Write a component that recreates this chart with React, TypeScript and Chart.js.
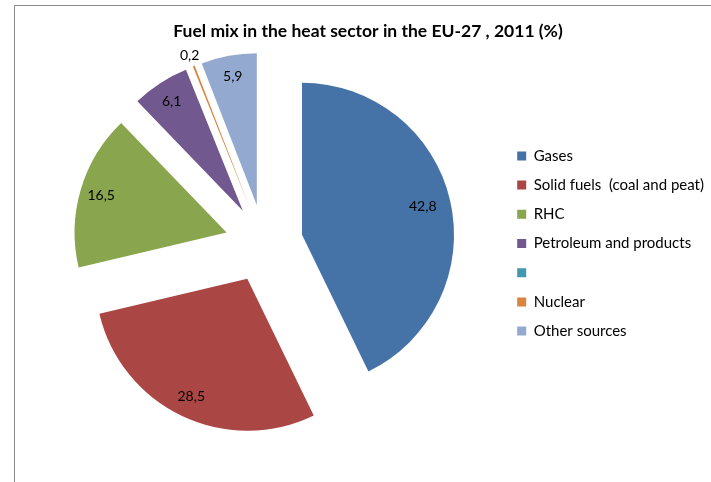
import React, { useEffect, useRef } from "react";
import { Chart, registerables } from "chart.js";

Chart.register(...registerables);

const TITLE = "Fuel mix in the heat sector in the EU-27 , 2011 (%)";
const categories = [
  "Gases",
  "Solid fuels  (coal and peat)",
  "RHC",
  "Petroleum and products",
  "",
  "Nuclear",
  "Other sources",
];
const shares = [42.8, 28.5, 16.5, 6.1, 0, 0.2, 5.9];
const colors = ["#4572A7", "#AA4643", "#89A54E", "#71588F", "#4198AF", "#DB843D", "#93A9CF"];

const EXPLODE = 39;
const FONT = "Lato, 'Open Sans', sans-serif";

const explodePlugin = {
  id: "explode",
  beforeDatasetDraw(chart: any, args: any) {
    const ctx = chart.ctx;
    const meta = args.meta;
    meta.data.forEach((arc: any) => {
      const mid = (arc.startAngle + arc.endAngle) / 2;
      ctx.save();
      ctx.translate(Math.cos(mid) * EXPLODE, Math.sin(mid) * EXPLODE);
      arc.draw(ctx);
      ctx.restore();
    });
    return false;
  },
};

const labelPlugin = {
  id: "sliceLabels",
  afterDatasetsDraw(chart: any) {
    const ctx = chart.ctx;
    const meta = chart.getDatasetMeta(0);
    const data = chart.data.datasets[0].data as number[];
    ctx.save();
    ctx.font = `14px ${FONT}`;
    ctx.fillStyle = "#000";
    ctx.textAlign = "center";
    ctx.textBaseline = "middle";
    meta.data.forEach((arc: any, i: number) => {
      const v = data[i];
      if (!v) return;
      const mid = (arc.startAngle + arc.endAngle) / 2;
      const R = arc.outerRadius;
      let r: number;
      if (v < 1) r = R + 11;
      else if (i === 0) r = R * 0.815;
      else r = R * 0.86;
      const d = EXPLODE + r;
      const x = arc.x + Math.cos(mid) * d;
      const y = arc.y + Math.sin(mid) * d;
      ctx.fillText(v.toFixed(1).replace(".", ","), x, y);
    });
    ctx.restore();
  },
};

export default function App() {
  const ref = useRef<HTMLCanvasElement>(null);
  useEffect(() => {
    if (!ref.current) return;
    const chart = new Chart(ref.current, {
      type: "pie",
      data: {
        labels: categories,
        datasets: [
          {
            data: shares,
            backgroundColor: colors,
            borderWidth: 0,
            clip: false as any,
          },
        ],
      },
      options: {
        animation: false,
        responsive: false,
        radius: 152,
        layout: { padding: { left: 25, right: 0, top: 20.5, bottom: 36.5 } },
        plugins: {
          title: {
            display: true,
            text: TITLE,
            color: "#000",
            font: { family: FONT, size: 17.5, weight: "bold" },
            padding: { top: 0, bottom: 0 },
          },
          legend: {
            position: "right",
            fullSize: false,
            maxWidth: 208,
            labels: {
              boxWidth: 9,
              boxHeight: 9,
              padding: 14.2,
              color: "#000",
              font: { family: FONT, size: 15 },
            },
          },
          tooltip: { enabled: false },
        },
      } as any,
      plugins: [explodePlugin, labelPlugin],
    });
    return () => chart.destroy();
  }, []);

  return (
    <div style={{ position: "absolute", left: 0, top: 0, width: 711, height: 482, background: "#fff", overflow: "hidden" }}>
      <div
        style={{
          position: "absolute",
          left: 14,
          top: 5,
          width: 697,
          height: 477,
          boxSizing: "border-box",
          borderTop: "1.5px solid #8a8a8a",
          borderLeft: "1.5px solid #8a8a8a",
        }}
      />
      <canvas ref={ref} width={711} height={482} style={{ position: "absolute", left: 0, top: 0 }} />
    </div>
  );
}
